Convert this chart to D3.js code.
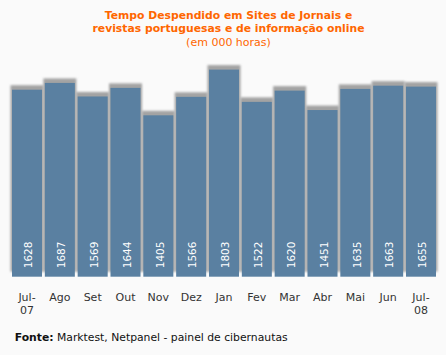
<!DOCTYPE html>
<html><head><meta charset="utf-8"><script src="https://cdn.jsdelivr.net/npm/d3@7"></script>
<style>body{margin:0;background:#fafafa}</style></head>
<body>
<svg id="chart" width="446" height="355"></svg>
<script>
const months = ["Jul-07","Ago","Set","Out","Nov","Dez","Jan","Fev","Mar","Abr","Mai","Jun","Jul-08"];
const monthLines = [["Jul-","07"],["Ago"],["Set"],["Out"],["Nov"],["Dez"],["Jan"],["Fev"],["Mar"],["Abr"],["Mai"],["Jun"],["Jul-","08"]];
const hours = [1628,1687,1569,1644,1405,1566,1803,1522,1620,1451,1635,1663,1655];
const titleLines = ["Tempo Despendido em Sites de Jornais e","revistas portuguesas e de informação online"];
const subtitle = "(em 000 horas)";
const sourceLabel = "Fonte:";
const sourceText = " Marktest, Netpanel - painel de cibernautas";

const svg = d3.select("#chart");
const font = "'DejaVu Sans', Verdana, sans-serif";

svg.append("rect").attr("width",446).attr("height",355).attr("fill","#fafafa");

const defs = svg.append("defs");
const f = defs.append("filter").attr("id","sh").attr("x","-30%").attr("y","-30%").attr("width","160%").attr("height","160%");
f.append("feGaussianBlur").attr("stdDeviation",1.1);

const x = d3.scaleBand().domain(months).range([12,436]).paddingInner(0.086).paddingOuter(0);
const y = d3.scaleLinear().domain([0,1803]).range([276.7,69.6]);
const bw = x.bandwidth();

// shadows
svg.append("g").selectAll("rect").data(hours).join("rect")
  .attr("x",(d,i)=>x(months[i])-1.5)
  .attr("y",d=>y(d)-4.5)
  .attr("width",bw+3)
  .attr("height",d=>y(0)-5-(y(d)-4.5))
  .attr("fill","#a3a3a3")
  .attr("filter","url(#sh)");

// bars
svg.append("g").selectAll("rect").data(hours).join("rect")
  .attr("x",(d,i)=>x(months[i]))
  .attr("y",d=>y(d))
  .attr("width",bw)
  .attr("height",d=>y(0)-y(d))
  .attr("fill","#5a80a1");

// value labels
svg.append("g").selectAll("text").data(hours).join("text")
  .attr("transform",(d,i)=>`translate(${x(months[i])+bw/2+5.2},268.3) rotate(-90)`)
  .attr("font-family",font).attr("font-size","10.5px").attr("fill","#ffffff")
  .text(d=>d);

// x labels
const xl = svg.append("g").selectAll("text").data(monthLines).join("text")
  .attr("text-anchor","middle")
  .attr("font-family",font).attr("font-size","11px").attr("fill","#333333")
  .attr("x",(d,i)=>x(months[i])+bw/2)
  .attr("y",300.5);
xl.selectAll("tspan").data(d=>d).join("tspan")
  .attr("x",function(){return this.parentNode.getAttribute("x");})
  .attr("dy",(d,j)=>j===0?0:13)
  .text(d=>d);

// title
svg.append("g").selectAll("text").data(titleLines).join("text")
  .attr("x",228.5).attr("y",(d,i)=>18.5+i*13.5)
  .attr("text-anchor","middle").attr("font-family",font).attr("font-weight","bold")
  .attr("font-size","10.8px").attr("fill","#ff6600").text(d=>d);
svg.append("text").attr("x",228.5).attr("y",45.5).attr("text-anchor","middle")
  .attr("font-family",font).attr("font-size","11px").attr("fill","#ff6600").text(subtitle);

// source
const src = svg.append("text").attr("x",14.7).attr("y",340.5)
  .attr("font-family",font).attr("font-size","10.8px").attr("fill","#111");
src.append("tspan").attr("font-weight","bold").text(sourceLabel);
src.append("tspan").text(sourceText);
</script></body></html>
